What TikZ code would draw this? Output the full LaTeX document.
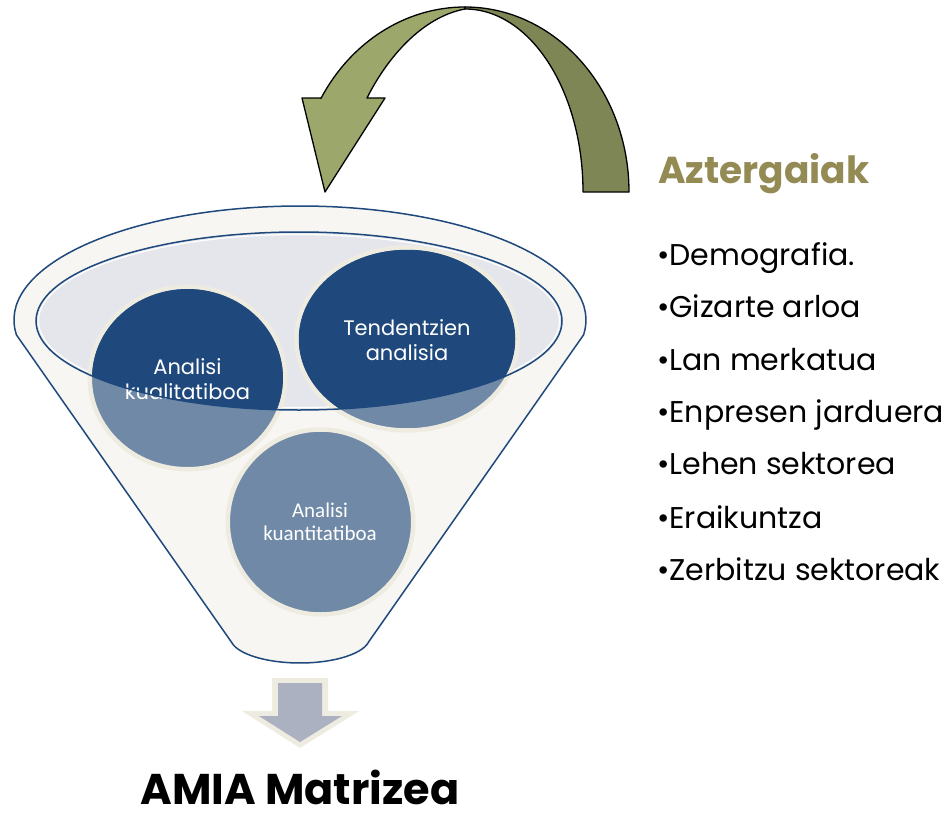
\documentclass[tikz,border=0pt]{standalone}
\usepackage{fontspec}
\setmainfont{Poppins}
\newfontfamily\calib{Carlito}
\usetikzlibrary{shapes.geometric}
\definecolor{navy}{HTML}{1F497D}
\definecolor{steel}{HTML}{7089A7}
\definecolor{cream}{HTML}{EEECE1}
\definecolor{funnelbg}{HTML}{F7F6F2}
\definecolor{ellbg}{HTML}{E4E6EB}
\definecolor{edgeblue}{HTML}{1F497D}
\definecolor{olivelight}{HTML}{9BA76B}
\definecolor{olivedark}{HTML}{7F8656}
\definecolor{olivetext}{HTML}{948A54}
\definecolor{arrowgray}{HTML}{ABB1C0}
\tikzset{
  edgeline/.style={draw=edgeblue, line width=1.5pt},
  bubble/.style={fill=steel, draw=cream, line width=4.5pt},
  bubtext/.style={text=white, align=center, inner sep=0pt, font=\fontsize{21}{25}\selectfont},
  bubtextb/.style={text=white, align=center, inner sep=0pt, font=\calib\fontsize{21}{23}\selectfont},
  ribbon/.style={draw=black, line width=1.3pt, line join=round},
  listitem/.style={anchor=base west, inner sep=0pt, font=\fontsize{30}{36}\selectfont},
}
\begin{document}
\begin{tikzpicture}[x=1pt,y=-1pt]
\useasboundingbox (0,0) rectangle (949,813);
\fill[white] (0,0) rectangle (949,813);

% curved arrow
\path[ribbon, fill=olivedark] (629,192) arc[start angle=0,end angle=-90,x radius=164,y radius=185]
  -- (465,9) arc[start angle=-90,end angle=0,x radius=118,y radius=183] -- cycle;
\path[ribbon, fill=olivelight] (465,7) arc[start angle=-90,end angle=-149.5,x radius=167,y radius=185]
  -- (302,98) -- (325,192) -- (385,98) -- (367,98)
  .. controls (387,58) and (422,17) .. (465,9) -- cycle;

% funnel
\path[edgeline, fill=funnelbg] (16.5,335) arc[start angle=172.44,end angle=367.56,x radius=286,y radius=114]
  -- (368.9,641.5) arc[start angle=10,end angle=170,x radius=70,y radius=26] -- cycle;
\fill[ellbg] (299,321) ellipse[x radius=263,y radius=89];
\draw[white, line width=1.2pt] (299,321) ellipse[x radius=260.5,y radius=86.5];

% bubbles
\path[bubble] (187.5,378) ellipse[x radius=97.75,y radius=91.25];
\path[bubble] (407,339) ellipse[x radius=110.5,y radius=91.5];
\path[bubble] (320.5,522) ellipse[x radius=92.75,y radius=92.5];
\begin{scope}
  \clip (299,321) ellipse[x radius=263,y radius=89];
  \fill[navy] (187.5,378) ellipse[x radius=95.5,y radius=89];
  \fill[navy] (407,339) ellipse[x radius=108.25,y radius=89.25];
\end{scope}
\node[bubtext] (kual) at (187.5,379) {Analisi\\kualitatiboa};
\node[bubtext] (tend) at (407,340) {Tendentzien\\analisia};
\node[bubtextb] (kuan) at (320,521.5) {Analisi\\kuantitatiboa};
\draw[edgeline] (299,321) ellipse[x radius=263,y radius=89];

% down arrow
\fill[cream] (272,678) -- (328,678) -- (328,711) -- (359,711) -- (300,748) -- (242,711) -- (272,711) -- cycle;
\fill[arrowgray] (278,683) -- (322,683) -- (322,716) -- (342,716) -- (300,742) -- (259,716) -- (278,716) -- cycle;

% texts
\node[anchor=base, inner sep=0pt, text depth=0pt, font=\fontsize{43}{48}\selectfont\bfseries] (amia) at (300,804) {AMIA Matrizea};
\node[anchor=base west, inner sep=0pt, text=olivetext, font=\fontsize{37.5}{44}\selectfont\bfseries] (azt) at (658,183) {Aztergaiak};
\node[listitem] (l1) at (657,265) {•Demografia.};
\node[listitem] (l2) at (657,317) {•Gizarte arloa};
\node[listitem] (l3) at (657,370) {•Lan merkatua};
\node[listitem] (l4) at (657,422) {•Enpresen jarduera};
\node[listitem] (l5) at (657,474) {•Lehen sektorea};
\node[listitem] (l6) at (657,528) {•Eraikuntza};
\node[listitem] (l7) at (657,580) {•Zerbitzu sektoreak};
\end{tikzpicture}
\end{document}
